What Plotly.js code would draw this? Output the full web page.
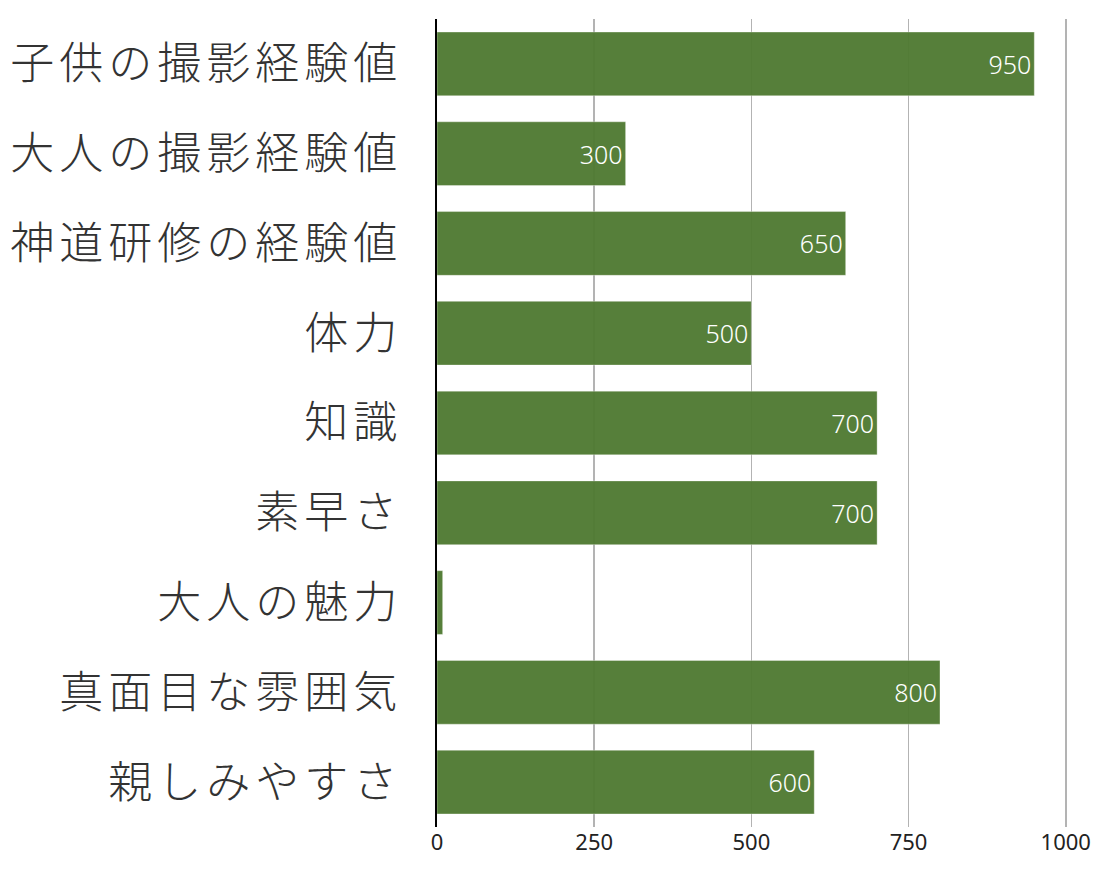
<!DOCTYPE html>
<html>
<head>
<meta charset="utf-8">
<script src="https://cdn.plot.ly/plotly-3.0.1.min.js"></script>
<style>
  html, body { margin: 0; padding: 0; background: #fff; }
  #chart { width: 1100px; height: 869px; }
  .ytick text { letter-spacing: 5px; }
</style>
</head>
<body>
<div id="chart"></div>
<script>
// categories, top to bottom
let categories = ['子供の撮影経験値', '大人の撮影経験値', '神道研修の経験値', '体力', '知識', '素早さ', '大人の魅力', '真面目な雰囲気', '親しみやすさ'];
let values = [950, 300, 650, 500, 700, 700, 9, 800, 600];
let labels = ['950', '300', '650', '500', '700', '700', '', '800', '600'];
let xTicks = [0, 250, 500, 750, 1000];

var trace = {
    type: 'bar',
    orientation: 'h',
    y: categories,
    x: values,
    text: labels,
    textposition: 'inside',
    insidetextanchor: 'end',
    textfont: {color: '#ffffff', size: 25, family: 'Noto Sans', weight: 300},
    marker: {
        color: 'rgb(80,122,50)',
        opacity: 0.96,
        line: {color: 'rgba(255,255,255,0.35)', width: 1},
    },
    hoverinfo: 'none',
};

var layout = {
    width: 1100,
    height: 869,
    margin: {t: 19, l: 437, r: 33, b: 42},
    paper_bgcolor: '#ffffff',
    plot_bgcolor: '#ffffff',
    showlegend: false,
    bargap: 0.29,
    xaxis: {
        range: [0, 1002],
        tickvals: xTicks,
        ticktext: xTicks.map(String),
        showgrid: true,
        gridcolor: '#b3b3b3',
        gridwidth: 1.6,
        zeroline: false,
        showline: false,
        ticks: '',
        tickfont: {size: 22, color: '#222', family: 'Noto Sans'},
    },
    yaxis: {
        autorange: 'reversed',
        showgrid: false,
        showline: true,
        linecolor: '#000000',
        linewidth: 2,
        ticks: '',
        ticklabelstandoff: 24,
        tickfont: {size: 44, color: '#333333', family: 'Noto Sans CJK JP', weight: 300},
    },
    uniformtext: {minsize: 18, mode: 'hide'},
};

var config = {staticPlot: true};

Plotly.newPlot('chart', [trace], layout, config);
</script>
</body>
</html>
